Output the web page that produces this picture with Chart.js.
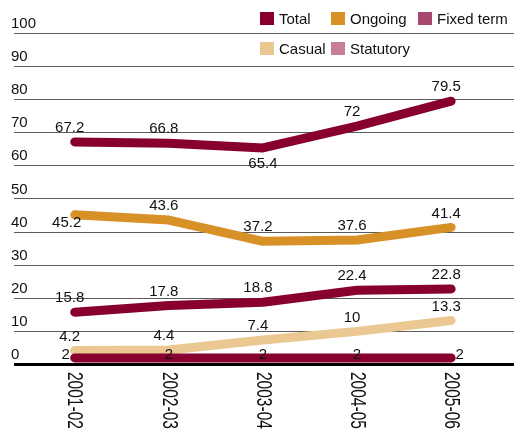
<!DOCTYPE html>
<html>
<head>
<meta charset="utf-8">
<script src="https://cdn.jsdelivr.net/npm/chart.js@4/dist/chart.umd.min.js"></script>
<style>
  html, body { margin: 0; padding: 0; background: #fff; }
  #wrap { width: 516px; height: 433px; }
</style>
</head>
<body>
<div id="wrap"><canvas id="c" width="516" height="433"></canvas></div>
<script>
// ---- data ----
const years = ['2001-02', '2002-03', '2003-04', '2004-05', '2005-06'];
const seriesNames = ['Total', 'Ongoing', 'Fixed term', 'Casual', 'Statutory'];
const total     = [67.2, 66.8, 65.4, 72, 79.5];
const ongoing   = [45.2, 43.6, 37.2, 37.6, 41.4];
const fixedTerm = [15.8, 17.8, 18.8, 22.4, 22.8];
const casual    = [4.2, 4.4, 7.4, 10, 13.3];
const statutory = [2, 2, 2, 2, 2];
const yTicks = [0, 10, 20, 30, 40, 50, 60, 70, 80, 90, 100];

// ---- styling ----
const FONT = "'Liberation Sans', Arial, sans-serif";
const TEXT = '#111111';
const MAROON = '#87002f';
const lineColors   = [MAROON, '#d89126', MAROON, '#ebc892', MAROON];
const legendColors = ['#87002f', '#d89126', '#a8486f', '#ebc892', '#c77e98'];
const drawOrder    = [0, 1, 2, 4, 3];          // lower = drawn on top
// where each value label sits relative to its point
const labelSides = [
  ['up', 'up', 'down', 'up', 'up'],
  ['downleft', 'up', 'up', 'up', 'up'],
  ['up', 'up', 'up', 'up', 'up'],
  ['up', 'up', 'up', 'up', 'up'],
  ['left', 'on', 'on', 'on', 'right']
];
const sideOffsets = {
  up: [-5, -14], down: [0, 16], downleft: [-8, 8],
  left: [-9, -3], right: [8.5, -3], on: [0, -3]
};
const labelsBehindLine = [false, false, false, true, false];

const seriesValues = [total, ongoing, fixedTerm, casual, statutory];

const datasets = seriesValues.map((vals, s) => ({
  label: seriesNames[s],
  data: vals.map((v, i) => ({ x: i, y: v })),
  borderColor: lineColors[s],
  backgroundColor: legendColors[s],
  borderWidth: 9,
  borderCapStyle: 'round',
  borderJoinStyle: 'round',
  pointRadius: 0,
  pointHoverRadius: 0,
  tension: 0,
  fill: false,
  order: drawOrder[s]
}));

function drawValueLabels(chart, s) {
  const ctx = chart.ctx;
  const meta = chart.getDatasetMeta(s);
  ctx.save();
  ctx.font = '15px ' + FONT;
  ctx.fillStyle = TEXT;
  ctx.textAlign = 'center';
  ctx.textBaseline = 'middle';
  meta.data.forEach((pt, i) => {
    const off = sideOffsets[labelSides[s][i]];
    ctx.fillText(String(seriesValues[s][i]), pt.x + off[0], pt.y + off[1]);
  });
  ctx.restore();
}

const valueLabels = {
  id: 'valueLabels',
  beforeDatasetDraw(chart, args) {
    if (labelsBehindLine[args.index]) drawValueLabels(chart, args.index);
  },
  afterDatasetsDraw(chart) {
    chart.data.datasets.forEach((d, s) => {
      if (!labelsBehindLine[s]) drawValueLabels(chart, s);
    });
  }
};

// category labels along the bottom, reading downwards
const yearLabels = {
  id: 'yearLabels',
  afterDraw(chart) {
    const ctx = chart.ctx;
    const xs = chart.scales.x;
    const top = chart.chartArea.bottom + 7.5;
    ctx.save();
    ctx.font = '15.5px ' + FONT;
    ctx.fillStyle = TEXT;
    ctx.textAlign = 'left';
    ctx.textBaseline = 'middle';
    years.forEach((yr, i) => {
      ctx.save();
      ctx.translate(xs.getPixelForValue(i), top);
      ctx.rotate(Math.PI / 2);
      ctx.scale(1, 1.45);
      ctx.fillText(yr, 0, 0);
      ctx.restore();
    });
    ctx.restore();
  }
};

// two-row legend grid in the top right corner
const legendGrid = {
  id: 'legendGrid',
  afterDraw(chart) {
    const ctx = chart.ctx;
    const cols = [260, 331, 418];
    const rows = [12, 42];
    const cells = [[0, 0], [1, 0], [2, 0], [0, 1], [1, 1]];
    ctx.save();
    ctx.font = '15px ' + FONT;
    ctx.textAlign = 'left';
    ctx.textBaseline = 'middle';
    chart.data.datasets.forEach((d, s) => {
      const bx = cols[cells[s][0]];
      const by = rows[cells[s][1]];
      ctx.fillStyle = legendColors[s];
      ctx.fillRect(bx, by, 14, 13);
      ctx.fillStyle = TEXT;
      ctx.fillText(d.label, bx + 19, by + 7.5);
    });
    ctx.restore();
  }
};

Chart.defaults.font.family = FONT;
Chart.defaults.font.size = 15;
Chart.defaults.color = TEXT;

new Chart(document.getElementById('c'), {
  type: 'line',
  data: { datasets },
  options: {
    responsive: false,
    animation: false,
    devicePixelRatio: 1,
    layout: { padding: { left: 14, right: 2, top: 33.3, bottom: 68.5 } },
    plugins: { legend: { display: false }, tooltip: { enabled: false } },
    scales: {
      x: {
        type: 'linear',
        display: false,
        min: -0.645,
        max: 4.668
      },
      y: {
        type: 'linear',
        min: 0,
        max: 100,
        afterBuildTicks(scale) { scale.ticks = yTicks.map(v => ({ value: v })); },
        border: { display: false },
        grid: {
          drawTicks: false,
          color: c => (c.tick && c.tick.value === 0 ? '#000000' : '#5c5c5c'),
          lineWidth: c => (c.tick && c.tick.value === 0 ? 3 : 1)
        },
        ticks: {
          mirror: true,
          padding: -1,
          labelOffset: -9.5,
          font: { size: 15 },
          color: TEXT
        }
      }
    }
  },
  plugins: [valueLabels, yearLabels, legendGrid]
});
</script>
</body>
</html>
